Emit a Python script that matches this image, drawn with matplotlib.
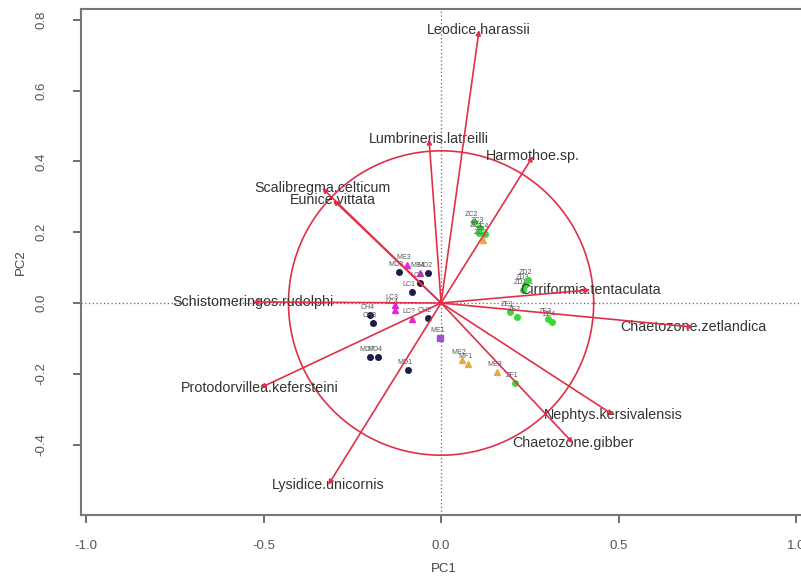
import numpy as np
import matplotlib
matplotlib.use("Agg")
from matplotlib import pyplot as plt

plt.rcParams['font.family'] = ['Liberation Sans', 'DejaVu Sans']

# species loadings (PC1, PC2)
species = ["Leodice.harassii", "Lumbrineris.latreilli", "Harmothoe.sp.",
           "Scalibregma.celticum", "Eunice.vittata", "Schistomeringos.rudolphi",
           "Protodorvillea.kefersteini", "Lysidice.unicornis",
           "Cirriformia.tentaculata", "Chaetozone.zetlandica",
           "Nephtys.kersivalensis", "Chaetozone.gibber"]
sp_pc1 = [0.107, -0.034, 0.259, -0.335, -0.304, -0.530, -0.510, -0.318,
          0.420, 0.710, 0.485, 0.372]
sp_pc2 = [0.771, 0.463, 0.415, 0.325, 0.291, 0.003, -0.240, -0.514,
          0.037, -0.068, -0.316, -0.396]

# site scores
sites = ["MD3", "ME3", "ME4", "MD2", "LC2", "LC1", "LC3", "LC4", "CH4", "CH3",
         "LC?", "CH2", "MD4", "MD?", "MD1", "ME1", "ME2", "MF1", "ME3", "ZF1",
         "ZC2", "ZC3", "ZC1", "ZC4", "ZC?", "ZD3", "ZD1", "ZD2",
         "ZE1", "ZE2", "ZE3", "ZE4"]
site_pc1 = [-0.118, -0.096, -0.059, -0.037, -0.059, -0.082, -0.130, -0.130,
            -0.200, -0.192, -0.082, -0.037, -0.178, -0.200, -0.093, -0.003,
            0.059, 0.076, 0.158, 0.208,
            0.093, 0.110, 0.107, 0.124, 0.118, 0.237, 0.231, 0.245,
            0.195, 0.214, 0.302, 0.313]
site_pc2 = [0.087, 0.107, 0.085, 0.085, 0.056, 0.031, -0.006, -0.020,
            -0.034, -0.057, -0.045, -0.042, -0.153, -0.153, -0.189, -0.099,
            -0.161, -0.172, -0.195, -0.226,
            0.229, 0.212, 0.198, 0.195, 0.177, 0.051, 0.037, 0.065,
            -0.025, -0.040, -0.045, -0.054]
site_group = ["a", "b", "b", "a", "a", "a", "b", "b", "a", "a", "b", "a",
              "a", "a", "a", "c", "d", "d", "d", "e",
              "e", "e", "e", "e", "d", "e", "e", "e",
              "e", "e", "e", "e"]

group_style = {
    "a": ("#1c1c4c", "o"),
    "b": ("#e028d8", "^"),
    "c": ("#a050d0", "s"),
    "d": ("#e8a848", "^"),
    "e": ("#38d838", "o"),
}

red = "#e03048"

fig = plt.figure(figsize=(8.01, 5.78), dpi=100)
ax = fig.add_axes([0.101, 0.109, 0.906, 0.875])
ax.set_xlim(-1.015, 1.03)
ax.set_ylim(-0.599, 0.83)

ax.axhline(0, color="#666666", ls=(0, (1, 2)), lw=0.9, zorder=1)
ax.axvline(0, color="#666666", ls=(0, (1, 2)), lw=0.9, zorder=1)

# equilibrium circle
t = np.linspace(0, 2 * np.pi, 400)
ax.plot(0.43 * np.cos(t), 0.43 * np.sin(t), color=red, lw=1.2, zorder=2)

# sites
for name, x, y, g in zip(sites, site_pc1, site_pc2, site_group):
    c, m = group_style[g]
    ax.plot(x, y, m, color=c, ms=4, zorder=3)
    ax.text(x - 0.008, y + 0.012, name, fontsize=5, color="#555555",
            ha="center", va="bottom", zorder=3)

# species labels and arrows
for name, x, y in zip(species, sp_pc1, sp_pc2):
    ax.text(x, y, name, fontsize=10.3, color="#333333", ha="center",
            va="center", zorder=4)
    ax.annotate("", xy=(x, y), xytext=(0, 0),
                arrowprops=dict(arrowstyle="-|>", color=red, lw=1.2,
                                mutation_scale=7, shrinkA=0, shrinkB=0),
                zorder=5)

for s in ax.spines.values():
    s.set_color("#777777")
    s.set_linewidth(1.5)

ax.set_xticks([-1.0, -0.5, 0.0, 0.5, 1.0])
ax.set_yticks([-0.4, -0.2, 0.0, 0.2, 0.4, 0.6, 0.8])
ax.set_xticklabels(["-1.0", "-0.5", "0.0", "0.5", "1.0"])
ax.set_yticklabels(["-0.4", "-0.2", "0.0", "0.2", "0.4", "0.6", "0.8"],
                   rotation=90, va="center")
ax.tick_params(colors="#555555", labelsize=9.5, length=6, width=1.2)
ax.tick_params(axis="x", pad=12)
ax.tick_params(axis="y", pad=18)

ax.set_xlabel("PC1", fontsize=9.5, color="#444444", labelpad=8)
ax.set_ylabel("PC2", fontsize=9.5, color="#444444", labelpad=6)

plt.savefig("out.png", dpi=100)
